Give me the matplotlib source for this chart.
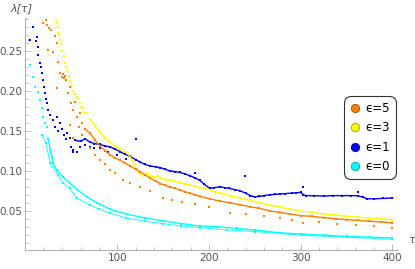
import numpy as np
import matplotlib
matplotlib.use("Agg")
import matplotlib.pyplot as plt
from matplotlib.ticker import MultipleLocator, FormatStrFormatter
from matplotlib.lines import Line2D

# values (tau, lambda)
labels = ["ϵ=5", "ϵ=3", "ϵ=1", "ϵ=0"]
colors = ["#ff8000", "#ffff00", "#0000ff", "#00ffff"]

# eps = 0 (cyan)
cyan_sp_tau = [4, 5, 8, 10, 14, 16, 18, 19, 21, 23]
cyan_sp_lam = [0.264, 0.2325, 0.2175, 0.205, 0.199, 0.189, 0.179, 0.1675, 0.16, 0.155]
cyan_tau = [25, 27, 29, 30, 34, 41, 48, 57, 67, 78,
            92, 110, 130, 150, 170, 190, 210, 230, 250, 277, 300, 325, 350, 375, 400]
cyan_lam = [0.14, 0.126, 0.1175, 0.11, 0.101, 0.0925, 0.085, 0.076, 0.0675, 0.06,
            0.052, 0.046, 0.041, 0.0375, 0.034, 0.031, 0.03, 0.028, 0.026, 0.0225,
            0.021, 0.0195, 0.018, 0.017, 0.016]
cyan_lo_tau = [18, 22, 27, 35, 41, 48, 56, 70, 80, 92, 110, 130, 150, 170, 190, 220, 250,
               300, 350, 400]
cyan_lo_lam = [0.145, 0.135, 0.11, 0.095, 0.085, 0.078, 0.066, 0.0575, 0.052, 0.047, 0.041,
               0.037, 0.034, 0.031, 0.029, 0.026, 0.024, 0.0195, 0.017, 0.0145]

# eps = 1 (blue)
blue_sp_tau = [5, 8, 11, 12.5, 13.6, 14, 15.8, 17, 18, 19, 20, 21, 22, 23.4, 24.5, 27, 30,
               32, 34, 36, 37.6, 40, 42, 44, 45, 48.5, 50, 52]
blue_sp_lam = [0.264, 0.28, 0.262, 0.2675, 0.255, 0.245, 0.235, 0.23, 0.2225, 0.214, 0.205,
               0.1975, 0.19, 0.185, 0.176, 0.17, 0.164, 0.155, 0.1675, 0.15, 0.16, 0.152,
               0.145, 0.14, 0.1475, 0.141, 0.13, 0.124]
blue_tau = [54, 60, 65, 70, 75, 81, 87, 92, 98, 103, 108, 114, 120, 125, 130, 136, 142, 147,
            152, 157, 163, 168, 174, 179, 185, 190, 195, 201, 206, 212, 217, 222, 228, 234,
            240, 245, 250, 255, 260, 266, 272, 277, 283, 290, 295, 300, 303, 306, 315, 325,
            335, 345, 355, 362, 368, 372, 380, 390, 400]
blue_lam = [0.138, 0.137, 0.14, 0.136, 0.134, 0.133, 0.131, 0.13, 0.127, 0.124, 0.121, 0.118,
            0.114, 0.111, 0.108, 0.106, 0.105, 0.104, 0.102, 0.1, 0.099, 0.098, 0.096, 0.094,
            0.091, 0.088, 0.083, 0.078, 0.079, 0.08, 0.079, 0.078, 0.0765, 0.075, 0.072,
            0.069, 0.0675, 0.068, 0.069, 0.07, 0.0705, 0.071, 0.0715, 0.072, 0.0725, 0.073,
            0.07, 0.069, 0.0688, 0.0685, 0.069, 0.069, 0.069, 0.0688, 0.067, 0.065, 0.065,
            0.0655, 0.066]
blue_lo_tau = [52, 56, 59, 65, 70, 75, 81, 90, 100, 110, 121, 185, 239, 302, 362]
blue_lo_lam = [0.126, 0.124, 0.13, 0.132, 0.13, 0.129, 0.128, 0.124, 0.12, 0.115, 0.14,
               0.0975, 0.094, 0.08, 0.074]

# eps = 3 (yellow)
yel_sp_tau = [33, 34, 35, 36, 37, 38, 39, 40, 42, 43, 44, 45, 47, 48, 50, 51, 52, 54, 56,
              57, 59, 61, 63, 64, 66]
yel_sp_lam = [0.287, 0.285, 0.28, 0.272, 0.27, 0.264, 0.258, 0.25, 0.243, 0.235, 0.23,
              0.225, 0.218, 0.212, 0.205, 0.207, 0.2, 0.196, 0.192, 0.19, 0.185, 0.18,
              0.178, 0.174, 0.172]
yel_tau = [70, 76, 81, 87, 92, 98, 103, 108, 112, 116, 120, 124, 128, 132, 136, 140, 144,
           148, 152, 157, 162, 168, 174, 179, 185, 190, 196, 201, 207, 212, 223, 234, 245,
           255, 266, 277, 288, 300, 312, 325, 338, 350, 362, 375, 388, 400]
yel_lam = [0.165, 0.156, 0.148, 0.141, 0.136, 0.131, 0.127, 0.124, 0.121, 0.114, 0.104,
           0.097, 0.094, 0.097, 0.094, 0.092, 0.093, 0.091, 0.089, 0.088, 0.087, 0.085,
           0.084, 0.082, 0.081, 0.079, 0.078, 0.076, 0.074, 0.072, 0.069, 0.066, 0.063,
           0.06, 0.057, 0.055, 0.052, 0.05, 0.048, 0.046, 0.045, 0.043, 0.042, 0.041,
           0.04, 0.039]

# eps = 5 (orange)
ora_sp_tau = [19, 22, 24, 26, 28, 24.5, 30, 32, 34, 36, 37.6, 40, 41, 42, 43, 44, 46, 48.5,
              50, 52, 54, 56, 59, 61.5, 34, 48.5, 52, 58, 62]
ora_sp_lam = [0.285, 0.288, 0.282, 0.279, 0.276, 0.251, 0.249, 0.268, 0.26, 0.236, 0.2225,
              0.2175, 0.221, 0.216, 0.219, 0.213, 0.1975, 0.205, 0.185, 0.176, 0.186,
              0.1675, 0.1725, 0.16, 0.204, 0.1575, 0.141, 0.155, 0.145]
ora_tau = [65, 70, 76, 81, 87, 92, 98, 103, 108, 114, 120, 125, 130, 136, 142, 147, 152,
           157, 163, 168, 174, 179, 185, 190, 201, 212, 223, 234, 245, 255, 266, 277, 288,
           300, 312, 325, 338, 350, 362, 375, 388, 400]
ora_lam = [0.152, 0.1475, 0.138, 0.131, 0.125, 0.12, 0.116, 0.113, 0.11, 0.106, 0.102,
           0.099, 0.095, 0.091, 0.087, 0.084, 0.082, 0.08, 0.078, 0.076, 0.074, 0.072,
           0.07, 0.068, 0.065, 0.062, 0.06, 0.0575, 0.055, 0.053, 0.05, 0.048, 0.046,
           0.044, 0.043, 0.0415, 0.04, 0.039, 0.038, 0.037, 0.036, 0.035]
ora_lo_tau = [70, 76, 81, 87, 92, 98, 106, 114, 125, 136, 150, 160, 171, 185, 200, 223, 240,
              260, 277, 290, 302, 320, 340, 360, 380, 399]
ora_lo_lam = [0.128, 0.12, 0.113, 0.108, 0.101, 0.097, 0.089, 0.085, 0.08, 0.075, 0.066,
              0.064, 0.061, 0.058, 0.055, 0.0475, 0.046, 0.043, 0.041, 0.039, 0.035, 0.036,
              0.033, 0.032, 0.031, 0.029]

fig = plt.figure(figsize=(4.15, 2.69), dpi=100)
ax = fig.add_axes([25 / 415, 19 / 269, 373 / 415, 232 / 269])

gray = "#b3b3b3"
ms = 1.8

series = [
    (cyan_tau, cyan_lam, cyan_lo_tau, cyan_lo_lam, cyan_sp_tau, cyan_sp_lam, colors[3], True),
    (blue_tau, blue_lam, blue_lo_tau, blue_lo_lam, blue_sp_tau, blue_sp_lam, colors[2], False),
    (yel_tau, yel_lam, [], [], yel_sp_tau, yel_sp_lam, colors[1], False),
    (ora_tau, ora_lam, ora_lo_tau, ora_lo_lam, ora_sp_tau, ora_sp_lam, colors[0], False),
]
for t, l, tl, ll, ts, ls, c, lo_line in series:
    ax.plot(t, l, color=c, lw=1.0, marker="s", ms=ms, mew=0)
    if tl:
        ax.plot(tl, ll, ls="-" if lo_line else "none", lw=0.6, color=c,
                marker="s", ms=ms, mew=0)
    if ts:
        ax.plot(ts, ls, ls="none", color=c, marker="s", ms=ms, mew=0)

ax.set_xlim(-0.5, 406)
ax.set_ylim(0.001, 0.291)

for s in ["top", "right"]:
    ax.spines[s].set_visible(False)
for s in ["left", "bottom"]:
    ax.spines[s].set_color(gray)
    ax.spines[s].set_linewidth(0.8)

ax.xaxis.set_major_locator(MultipleLocator(100))
ax.xaxis.set_minor_locator(MultipleLocator(20))
ax.yaxis.set_major_locator(MultipleLocator(0.05))
ax.yaxis.set_minor_locator(MultipleLocator(0.01))
ax.yaxis.set_major_formatter(FormatStrFormatter("%.2f"))
ax.tick_params(which="both", direction="in", color=gray, labelcolor="#555555",
               labelsize=7.5, width=0.6, pad=2)
ax.tick_params(which="major", length=4)
ax.tick_params(which="minor", length=2.2)
ax.set_xticks([100, 200, 300, 400])

fig.text(22 / 415, 1 - 8 / 269, "λ[τ]", ha="center", va="center", fontsize=8,
         color="#555555", style="italic")
fig.text(411 / 415, 1 - 240 / 269, "τ", ha="center", va="center", fontsize=8,
         color="#555555", style="italic")

handles = [Line2D([], [], ls="none", marker="o", ms=6, mfc=c,
                  mec=tuple(0.6 * np.array(matplotlib.colors.to_rgb(c))), mew=0.6)
           for c in colors]
leg = fig.legend(handles, labels, loc="upper right", bbox_to_anchor=(396 / 415, 1 - 96 / 269),
                 frameon=True, fontsize=8.5, handlelength=0.9, handletextpad=0.45,
                 labelspacing=0.55, borderpad=0.5, borderaxespad=0, fancybox=True)
leg.get_frame().set_edgecolor("black")
leg.get_frame().set_linewidth(0.8)
leg.get_frame().set_boxstyle("round", pad=0, rounding_size=0.6)

fig.savefig("out.png", dpi=100)
